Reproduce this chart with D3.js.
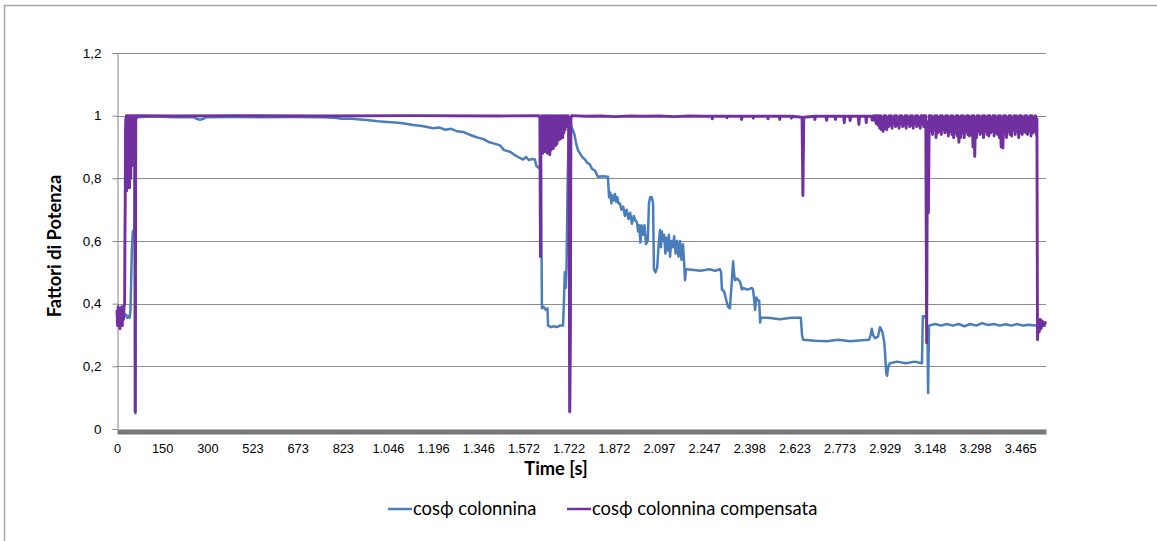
<!DOCTYPE html>
<html>
<head>
<meta charset="utf-8">
<script src="https://cdn.jsdelivr.net/npm/d3@7"></script>
<style>
  body { margin: 0; background: #ffffff; }
  svg { display: block; font-family: Lato, "Open Sans", sans-serif; }
</style>
</head>
<body>
<div id="chart"></div>
<script>
// Sample index on x (category axis), power factor on y
const sampleCount = 3168;
const labelStep = 154;
const timeLabels = ['0', '150', '300', '523', '673', '823', '1.046', '1.196', '1.346', '1.572', '1.722',
    '1.872', '2.097', '2.247', '2.398', '2.623', '2.773', '2.929', '3.148', '3.298', '3.465'];
const yTicks = [0, 0.2, 0.4, 0.6, 0.8, 1, 1.2];
const yTickLabels = ['0', '0,2', '0,4', '0,6', '0,8', '1', '1,2'];
const seriesNames = ['cosϕ colonnina', 'cosϕ colonnina compensata'];

const colonnina = [
    [0, 0.37], [3, 0.35], [6, 0.38], [9, 0.355], [12, 0.37], [15, 0.36], [18, 0.375], [21, 0.355], [24, 0.37],
    [27, 0.36], [31, 0.365], [35, 0.355], [39, 0.36], [43, 0.355], [46, 0.38], [48, 0.46], [50, 0.55], [52, 0.6],
    [54, 0.63], [57, 0.635], [59, 0.62], [60, 0.9], [61, 0.99], [62, 0.06], [63, 0.05], [64, 0.99], [70, 0.995],
    [120, 0.997], [200, 0.995], [262, 0.995], [272, 0.99], [283, 0.987], [294, 0.99], [305, 0.995], [400, 0.996],
    [500, 0.995], [600, 0.996], [700, 0.995], [740, 0.993], [767, 0.99], [800, 0.99], [830, 0.988], [860, 0.985],
    [890, 0.982], [921, 0.98], [950, 0.978], [980, 0.975], [1010, 0.97], [1040, 0.967], [1078, 0.96], [1100, 0.962],
    [1120, 0.955], [1140, 0.958], [1160, 0.95], [1180, 0.948], [1200, 0.94], [1215, 0.935], [1231, 0.93],
    [1250, 0.925], [1270, 0.915], [1290, 0.91], [1306, 0.905], [1320, 0.89], [1340, 0.885], [1355, 0.875],
    [1374, 0.865], [1385, 0.86], [1395, 0.868], [1405, 0.858], [1415, 0.862], [1425, 0.86], [1430, 0.84],
    [1436, 0.835], [1446, 0.83], [1449, 0.385], [1455, 0.39], [1462, 0.38], [1468, 0.385], [1470, 0.33],
    [1480, 0.325], [1490, 0.328], [1500, 0.325], [1510, 0.33], [1521, 0.33], [1524, 0.4], [1527, 0.5], [1530, 0.45],
    [1533, 0.52], [1537, 0.8], [1541, 0.97], [1544, 0.055], [1547, 0.96], [1550, 0.965], [1560, 0.94], [1566, 0.91],
    [1572, 0.89], [1585, 0.87], [1596, 0.86], [1603, 0.85], [1612, 0.845], [1620, 0.83], [1630, 0.825], [1640, 0.805],
    [1655, 0.807], [1674, 0.805], [1678, 0.74], [1682, 0.755], [1686, 0.72], [1690, 0.745], [1694, 0.73],
    [1698, 0.75], [1702, 0.725], [1706, 0.74], [1710, 0.72], [1715, 0.72], [1720, 0.7], [1726, 0.71], [1732, 0.68],
    [1738, 0.7], [1744, 0.67], [1750, 0.69], [1756, 0.655], [1762, 0.68], [1768, 0.665], [1773, 0.66], [1777, 0.63],
    [1781, 0.65], [1785, 0.595], [1789, 0.65], [1794, 0.62], [1799, 0.65], [1804, 0.59], [1810, 0.6], [1814, 0.72],
    [1818, 0.74], [1824, 0.74], [1828, 0.72], [1831, 0.51], [1836, 0.5], [1842, 0.515], [1848, 0.6], [1852, 0.635],
    [1855, 0.58], [1858, 0.63], [1862, 0.6], [1866, 0.62], [1870, 0.56], [1874, 0.61], [1878, 0.57], [1882, 0.62],
    [1886, 0.55], [1890, 0.6], [1895, 0.58], [1900, 0.615], [1905, 0.56], [1910, 0.6], [1915, 0.55], [1920, 0.6],
    [1925, 0.54], [1930, 0.59], [1934, 0.53], [1937, 0.475], [1940, 0.51], [1960, 0.508], [1990, 0.505],
    [2020, 0.51], [2040, 0.505], [2056, 0.51], [2060, 0.5], [2063, 0.445], [2070, 0.44], [2078, 0.41], [2084, 0.39],
    [2090, 0.385], [2095, 0.45], [2101, 0.535], [2104, 0.5], [2107, 0.475], [2115, 0.48], [2125, 0.47],
    [2131, 0.445], [2135, 0.45], [2150, 0.445], [2165, 0.45], [2169, 0.445], [2172, 0.42], [2176, 0.38],
    [2180, 0.42], [2186, 0.41], [2190, 0.41], [2193, 0.34], [2196, 0.355], [2220, 0.355], [2260, 0.35],
    [2300, 0.355], [2332, 0.355], [2336, 0.3], [2340, 0.285], [2380, 0.282], [2420, 0.28], [2460, 0.285],
    [2500, 0.28], [2540, 0.283], [2565, 0.285], [2570, 0.3], [2574, 0.32], [2578, 0.3], [2585, 0.29], [2595, 0.295],
    [2602, 0.325], [2610, 0.31], [2616, 0.28], [2619, 0.245], [2623, 0.18], [2626, 0.17], [2630, 0.2], [2636, 0.21],
    [2660, 0.215], [2690, 0.21], [2720, 0.215], [2745, 0.21], [2748, 0.36], [2755, 0.36], [2760, 0.35], [2764, 0.3],
    [2766, 0.115], [2769, 0.33], [2790, 0.335], [2810, 0.33], [2830, 0.335], [2850, 0.33], [2870, 0.335],
    [2890, 0.328], [2910, 0.335], [2930, 0.33], [2950, 0.338], [2970, 0.332], [2990, 0.335], [3010, 0.33],
    [3030, 0.334], [3050, 0.33], [3070, 0.335], [3090, 0.33], [3110, 0.333], [3130, 0.33], [3150, 0.335], [3168, 0.33]
];

const compensata = [
    [0, 0.38], [2, 0.33], [4, 0.39], [6, 0.34], [8, 0.385], [10, 0.32], [12, 0.37], [14, 0.35], [16, 0.39],
    [18, 0.33], [20, 0.38], [22, 0.35], [24, 0.39], [26, 0.4], [27, 0.6], [28, 0.72], [29, 0.95], [30, 0.99],
    [31, 0.78], [32, 1], [33, 0.76], [34, 0.99], [35, 0.86], [36, 1], [37, 0.77], [38, 0.99], [39, 0.9], [40, 1],
    [41, 0.8], [42, 0.99], [43, 0.77], [44, 1], [45, 0.86], [46, 0.99], [47, 0.8], [48, 1], [49, 0.88], [50, 0.99],
    [51, 0.84], [52, 1], [53, 0.9], [54, 0.99], [55, 0.87], [56, 1], [57, 0.92], [58, 0.99], [59, 0.95], [60, 1],
    [61, 0.98], [62, 0.055], [63, 0.5], [64, 0.99], [66, 1], [200, 0.999], [400, 1], [700, 0.999], [1000, 1],
    [1300, 0.999], [1440, 1],
    [1442, 0.99], [1444, 0.55], [1446, 0.98], [1448, 0.9], [1450, 1], [1452, 0.88], [1454, 0.99], [1456, 0.895],
    [1458, 1], [1460, 0.885], [1462, 0.99], [1464, 0.89], [1466, 1], [1468, 0.88], [1470, 0.99], [1472, 0.9],
    [1474, 1], [1476, 0.875], [1478, 0.99], [1480, 0.89], [1482, 1], [1484, 0.9], [1486, 0.99], [1488, 0.895],
    [1490, 1], [1492, 0.91], [1494, 0.99], [1496, 0.905], [1498, 1], [1500, 0.91], [1502, 0.99], [1504, 0.92],
    [1506, 1], [1508, 0.93], [1510, 0.99], [1512, 0.925], [1514, 1], [1516, 0.935], [1518, 0.99], [1520, 0.93],
    [1522, 1], [1524, 0.945], [1526, 0.99], [1528, 0.955], [1530, 1], [1532, 0.965], [1534, 0.99], [1536, 0.975],
    [1538, 1], [1540, 0.99], [1542, 0.6], [1544, 0.055], [1546, 0.3], [1548, 0.99], [1550, 1],
    [1600, 0.998], [1650, 0.999], [1700, 0.997], [1750, 0.999], [1800, 0.998], [1850, 0.999], [1900, 0.997],
    [1950, 0.999], [2000, 0.998], [2028, 0.998], [2030, 0.99], [2032, 0.998], [2078, 0.998], [2080, 0.993],
    [2082, 0.998], [2128, 0.998], [2130, 0.988], [2132, 0.998], [2168, 0.998], [2170, 0.992], [2172, 0.998],
    [2218, 0.998], [2220, 0.99], [2222, 0.998], [2258, 0.998], [2260, 0.988], [2262, 0.998], [2298, 0.998],
    [2300, 0.992], [2302, 0.998], [2336, 0.995], [2339, 0.745], [2342, 0.995], [2378, 0.998], [2380, 0.988],
    [2382, 0.998], [2418, 0.998], [2420, 0.985], [2422, 0.998], [2448, 0.998], [2450, 0.988], [2452, 0.998],
    [2478, 0.998], [2480, 0.978], [2482, 0.998], [2498, 0.998], [2500, 0.984], [2502, 0.998], [2528, 0.998],
    [2530, 0.972], [2532, 0.998], [2553, 0.998], [2555, 0.978], [2557, 0.998], [2573, 0.998], [2575, 0.986],
    [2580, 1], [2583, 0.985], [2586, 1], [2589, 0.975], [2592, 1], [2595, 0.97], [2598, 1], [2601, 0.96],
    [2604, 1], [2607, 0.955], [2610, 0.995], [2613, 0.95], [2616, 1], [2619, 0.96], [2622, 1], [2625, 0.955],
    [2628, 0.995], [2631, 0.965], [2634, 1], [2637, 0.97], [2640, 1], [2643, 0.96], [2646, 0.995], [2649, 0.975],
    [2652, 1], [2655, 0.965], [2658, 1], [2661, 0.97], [2664, 0.995], [2667, 0.96], [2670, 1], [2673, 0.975],
    [2676, 1], [2679, 0.965], [2682, 0.995], [2685, 0.97], [2688, 1], [2691, 0.96], [2694, 1], [2697, 0.975],
    [2700, 0.995], [2703, 0.965], [2706, 1], [2709, 0.97], [2712, 1], [2715, 0.96], [2718, 0.995], [2721, 0.975],
    [2724, 1], [2727, 0.965], [2730, 1], [2733, 0.97], [2736, 0.995], [2739, 0.96], [2742, 1], [2745, 0.975],
    [2748, 1], [2751, 0.965], [2754, 1], [2756, 0.98],
    [2758, 1], [2761, 0.275], [2764, 0.98], [2767, 0.69], [2770, 1],
    [2772, 1], [2775, 0.95], [2778, 1], [2781, 0.94], [2784, 0.995], [2787, 0.955], [2790, 1], [2793, 0.93],
    [2796, 1], [2799, 0.945], [2802, 0.995], [2805, 0.95], [2808, 1], [2811, 0.94], [2814, 1], [2817, 0.955],
    [2820, 0.995], [2823, 0.945], [2826, 1], [2829, 0.95], [2832, 1], [2835, 0.935], [2838, 0.995], [2841, 0.95],
    [2844, 1], [2847, 0.94], [2850, 1], [2853, 0.93], [2856, 0.995], [2859, 0.945], [2862, 1], [2865, 0.935],
    [2868, 1], [2871, 0.915], [2874, 0.995], [2877, 0.93], [2880, 1], [2883, 0.945], [2886, 1], [2889, 0.93],
    [2892, 0.995], [2895, 0.95], [2898, 1], [2901, 0.94], [2904, 1], [2907, 0.935], [2910, 0.995], [2913, 0.94],
    [2916, 1], [2919, 0.9], [2922, 1], [2925, 0.87], [2928, 0.995], [2931, 0.93], [2934, 1], [2937, 0.95],
    [2940, 1], [2943, 0.94], [2946, 0.995], [2949, 0.945], [2952, 1], [2955, 0.93], [2958, 1], [2961, 0.95],
    [2964, 0.995], [2967, 0.94], [2970, 1], [2973, 0.935], [2976, 1], [2979, 0.945], [2982, 0.995], [2985, 0.95],
    [2988, 1], [2991, 0.935], [2994, 1], [2997, 0.945], [3000, 0.995], [3003, 0.94], [3006, 1], [3009, 0.93],
    [3012, 1], [3015, 0.9], [3018, 0.995], [3021, 0.897], [3024, 1], [3027, 0.945], [3030, 1], [3033, 0.93],
    [3036, 0.995], [3039, 0.95], [3042, 1], [3045, 0.94], [3048, 1], [3051, 0.935], [3054, 0.995], [3057, 0.955],
    [3060, 1], [3063, 0.94], [3066, 1], [3069, 0.95], [3072, 0.995], [3075, 0.93], [3078, 1], [3081, 0.945],
    [3084, 1], [3087, 0.94], [3090, 0.995], [3093, 0.95], [3096, 1], [3099, 0.945], [3102, 1], [3105, 0.94],
    [3108, 0.995], [3111, 0.95], [3114, 1], [3117, 0.935], [3120, 1], [3123, 0.945], [3126, 0.995], [3129, 0.95],
    [3132, 1], [3135, 0.94],
    [3137, 0.99], [3139, 0.285], [3142, 0.34], [3145, 0.31], [3148, 0.35], [3151, 0.32], [3155, 0.345],
    [3160, 0.33], [3165, 0.34], [3168, 0.335]
];

const colors = ['#4a7ebb', '#7030a0'];

const width = 1157;
const height = 541;
const plot = { left: 117, right: 1046, top: 53, bottom: 429 };

const svg = d3.select('#chart')
    .append('svg')
    .attr('width', width)
    .attr('height', height);

// Chart frame (only left and top edges fall inside the picture)
svg.append('path')
    .attr('d', `M4.5,${height} V5.5 H${width}`)
    .attr('fill', 'none')
    .attr('stroke', '#a6a6a6')
    .attr('stroke-width', 1.5);

const x = d3.scaleLinear().domain([0, sampleCount]).range([plot.left, plot.right]);
const y = d3.scaleLinear().domain([0, 1.2]).range([plot.bottom, plot.top]);

// Horizontal gridlines
svg.append('g')
    .selectAll('line')
    .data(yTicks.filter(d => d > 0))
    .enter()
    .append('line')
    .attr('x1', plot.left)
    .attr('x2', plot.right)
    .attr('y1', d => Math.round(y(d)) + 0.5)
    .attr('y2', d => Math.round(y(d)) + 0.5)
    .attr('stroke', '#8c8c8c')
    .attr('stroke-width', 1);

// Y axis
const yAxis = svg.append('g')
    .attr('transform', `translate(${plot.left + 0.5},0)`)
    .call(d3.axisLeft(y)
        .tickValues(yTicks)
        .tickSize(5)
        .tickSizeOuter(0)
        .tickPadding(11)
        .tickFormat((d, i) => yTickLabels[i]));
yAxis.select('.domain').attr('stroke', '#868686');
yAxis.selectAll('.tick line').attr('stroke', '#868686');
yAxis.selectAll('.tick text')
    .attr('font-size', '13.5px')
    .attr('fill', '#000');

// X axis: dense category ticks render as a thick grey bar
const xAxis = svg.append('g')
    .attr('transform', `translate(0,${plot.bottom + 2.5})`)
    .call(d3.axisBottom(x)
        .tickValues(d3.range(timeLabels.length).map(k => k * labelStep))
        .tickSize(0)
        .tickSizeOuter(0)
        .tickPadding(12)
        .tickFormat((d, i) => timeLabels[i]));
xAxis.select('.domain').attr('stroke', '#777777').attr('stroke-width', 5);
xAxis.selectAll('.tick text')
    .attr('font-size', '12.8px')
    .attr('fill', '#000');

// Series lines
const line = d3.line()
    .x(d => x(d[0]))
    .y(d => y(d[1]));

[colonnina, compensata].forEach((series, i) => {
    svg.append('path')
        .datum(series)
        .attr('d', line)
        .attr('fill', 'none')
        .attr('stroke', colors[i])
        .attr('stroke-width', i === 0 ? 2.5 : 2.9)
        .attr('stroke-linejoin', 'round');
});

// Axis titles
svg.append('text')
    .attr('transform', 'translate(61,246) rotate(-90)')
    .attr('text-anchor', 'middle')
    .attr('font-size', '18.3px')
    .attr('font-weight', 'bold')
    .text('Fattori di Potenza');

svg.append('text')
    .attr('x', 556)
    .attr('y', 475)
    .attr('text-anchor', 'middle')
    .attr('font-size', '18.3px')
    .attr('font-weight', 'bold')
    .text('Time [s]');

// Legend
const legendX = [388, 567];
const legend = svg.append('g')
    .selectAll('g')
    .data(seriesNames)
    .enter()
    .append('g')
    .attr('transform', (d, i) => `translate(${legendX[i]},509)`);

legend.append('line')
    .attr('x1', 0)
    .attr('x2', 24)
    .attr('stroke', (d, i) => colors[i])
    .attr('stroke-width', 2.5);

legend.append('text')
    .attr('x', 25)
    .attr('dy', '0.35em')
    .attr('font-size', '18.4px')
    .text(d => d);
</script>
</body>
</html>
